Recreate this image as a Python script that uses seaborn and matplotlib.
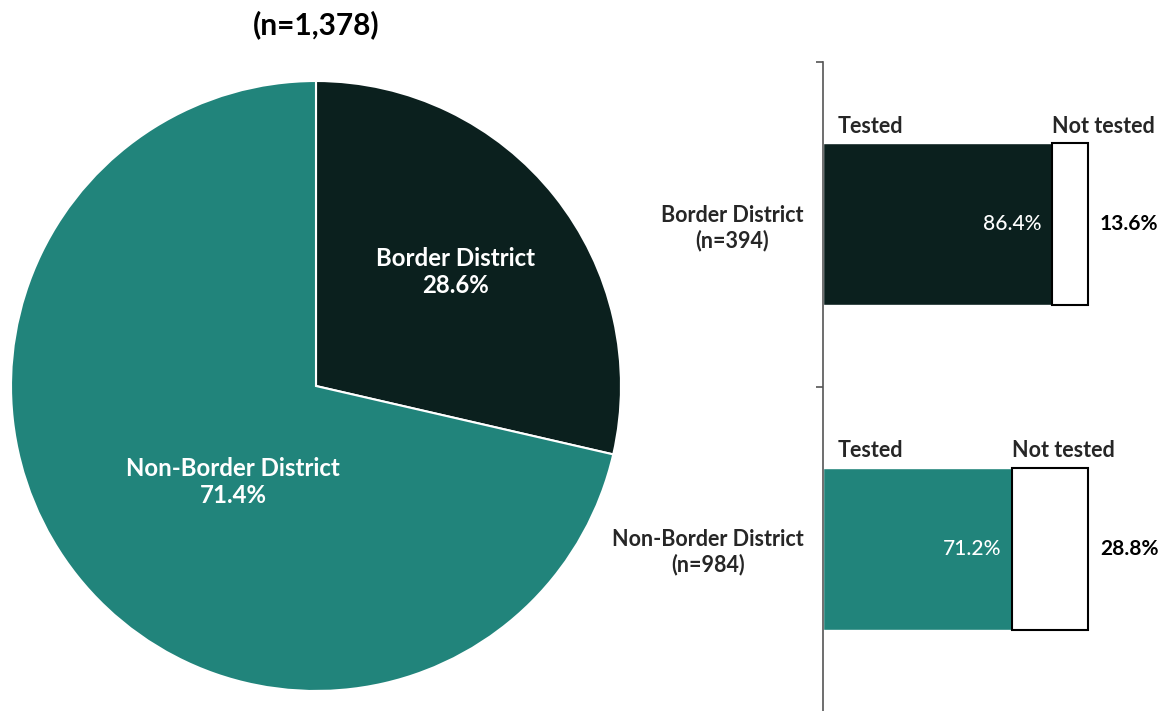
import matplotlib
matplotlib.use('Agg')
import matplotlib.pyplot as plt
import seaborn as sns
import pandas as pd

# data
districts = ['Border District', 'Non-Border District']
district_share = [28.6, 71.4]
district_n = [394, 984]
total_n = 1378
tested_pct = [86.4, 71.2]
not_tested_pct = [13.6, 28.8]

DARK = '#0b201e'
TEAL = '#21847b'
colors = [DARK, TEAL]

sns.set_theme(style='white')
plt.rcParams['font.family'] = ['Lato', 'DejaVu Sans']

fig = plt.figure(figsize=(11.63, 7.11), dpi=100)

# ---- pie (left)
ax_pie = fig.add_axes([11 / 1163, (711 - 386 - 305) / 711, 610 / 1163, 610 / 711])
wedges, _ = ax_pie.pie(district_share, colors=colors, startangle=90, counterclock=False,
                       wedgeprops=dict(edgecolor='white', linewidth=1.5))
ax_pie.set_xlim(-1, 1)
ax_pie.set_ylim(-1, 1)
ax_pie.set_aspect('equal')
ax_pie.axis('off')
label_pos = [(0.458, 0.375), (-0.272, -0.315)]
for name, share, (lx, ly) in zip(districts, district_share, label_pos):
    ax_pie.text(lx, ly, f'{name}\n{share:.1f}%', ha='center', va='center', color='white',
                fontsize=17.3, fontweight='bold', linespacing=1.2)

fig.text(316 / 1163, 1 - 25 / 711, f'(n={total_n:,})', ha='center', va='center',
         fontsize=21.5, fontweight='bold', color='black')

# ---- stacked bars (right)
ax = fig.add_axes([823 / 1163, -0.02, 340 / 1163, 1 - 62 / 711 + 0.02])
df = pd.DataFrame({'district': districts, 'tested': tested_pct, 'not_tested': not_tested_pct})
sns.barplot(data=df, x='tested', y='district', hue='district', palette=colors, orient='h',
            width=0.5, saturation=1, legend=False, ax=ax, zorder=2)
ax.barh(range(len(districts)), df['not_tested'], left=df['tested'], height=0.5,
        color='white', edgecolor='black', linewidth=1.5, zorder=2)

ax.set_xlim(0, 128.3)
ax.set_ylim(1.5 + 0.02 * 711 / 324.5, -0.5)
ax.set_xlabel('')
ax.set_ylabel('')
ax.set_xticks([])
for s in ['top', 'right', 'bottom']:
    ax.spines[s].set_visible(False)
ax.spines['left'].set_color('#555555')
ax.spines['left'].set_linewidth(1.2)

ax.set_yticks([-0.5, 0.5])
ax.set_yticklabels([])
ax.tick_params(axis='y', which='major', length=5, width=1.2, color='#555555', direction='out', left=True)
ax.set_yticks([0, 1], minor=True)
ax.set_yticklabels([f'{d}\n(n={n})' for d, n in zip(districts, district_n)], minor=True,
                   fontsize=15.5, fontweight='bold', multialignment='center')
ax.tick_params(axis='y', which='minor', length=0, pad=14)

for i in range(len(districts)):
    top = i - 0.25
    ax.text(5.5, top - 0.02, 'Tested', ha='left', va='bottom', fontsize=15.5, fontweight='bold')
    ax.text(tested_pct[i], top - 0.02, 'Not tested', ha='left', va='bottom', fontsize=15.5,
            fontweight='bold')
    ax.text(tested_pct[i] - 3.8, i, f'{tested_pct[i]:.1f}%', ha='right', va='center',
            color='white', fontsize=15, fontweight='medium')
    ax.text(100 + 4.5, i, f'{not_tested_pct[i]:.1f}%', ha='left', va='center',
            color='black', fontsize=15, fontweight='bold')

fig.savefig('out.png', dpi=100)
